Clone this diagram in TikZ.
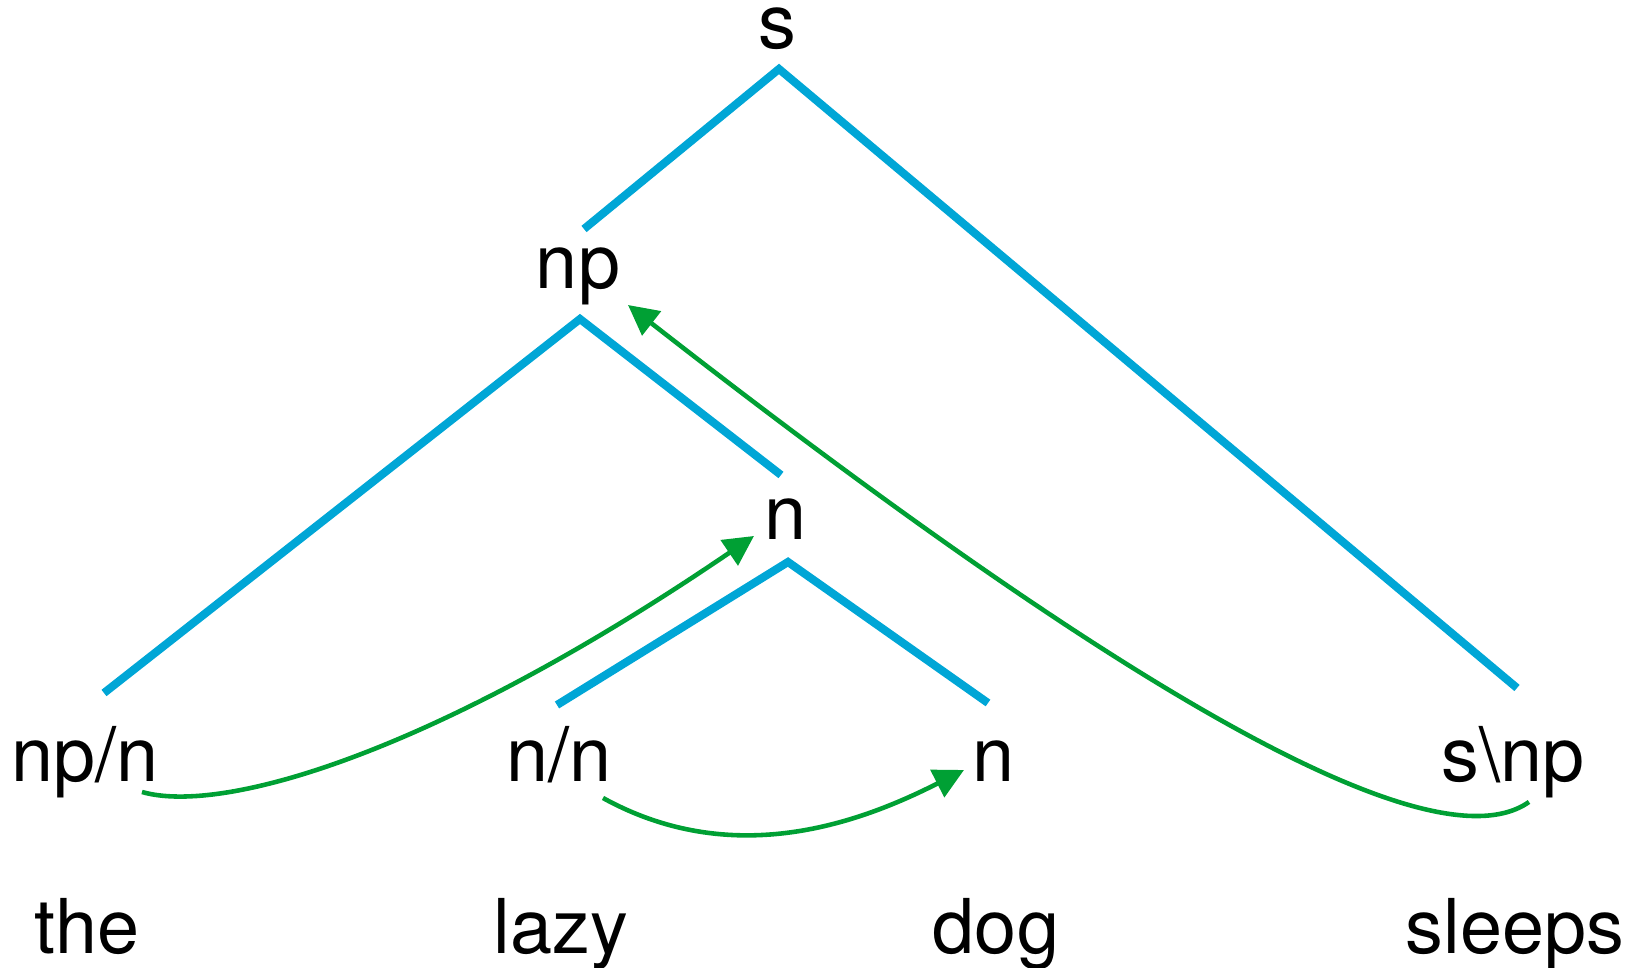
\documentclass[tikz,border=0pt]{standalone}
\usepackage{fontspec}
\setmainfont{TeX Gyre Heros}
\usepackage{xcolor}
\usepackage{tikz}
\usetikzlibrary{arrows.meta}

\definecolor{treeblue}{RGB}{0,166,214}
\definecolor{linkgreen}{RGB}{0,160,52}

\begin{document}
\begin{tikzpicture}[x=0.01cm, y=-0.01cm,
  every node/.style={font=\fontsize{21.5}{26}\selectfont, anchor=base, inner sep=0pt},
  tree/.style={treeblue, line width=2.3pt},
  link/.style={linkgreen, line width=1.3pt, -{Triangle[length=0.3cm,width=0.3cm]}}]
\useasboundingbox (0,0) rectangle (1635,968);
% categories
\node (s) at (777,49) {s};
\node (np) at (578,289) {np};
\node (n) at (786,540) {n};
\node (npn) at (85,782) {np/n};
\node (nn) at (559,782) {n/n};
\node (nr) at (994,782) {n};
\node (snp) at (1513,782) {s\textbackslash np};
% words
\node (the) at (87,954) {the};
\node (lazy) at (561,954) {lazy};
\node (dog) at (996,954) {dog};
\node (sleeps) at (1515,954) {sleeps};
% tree points
\coordinate (s-top) at (779,69);
\coordinate (np-up) at (584,229);
\coordinate (snp-up) at (1517,688);
\coordinate (np-top) at (580,319);
\coordinate (npn-up) at (104,693);
\coordinate (n-up) at (781,475);
\coordinate (n-top) at (788,562);
\coordinate (nn-up) at (557,705);
\coordinate (nr-up) at (988,703);
\draw[tree] (np-up) -- (s-top) -- (snp-up);
\draw[tree] (npn-up) -- (np-top) -- (n-up);
\draw[tree] (nn-up) -- (n-top) -- (nr-up);
% links
\coordinate (npn-out) at (142,792);
\coordinate (n-in) at (754,536);
\coordinate (nn-out) at (603,798);
\coordinate (nr-in) at (964,770);
\coordinate (snp-out) at (1529,802);
\coordinate (np-in) at (628,305);
\draw[link] (npn-out) .. controls (222,815) and (434,754) .. (n-in);
\draw[link] (nn-out) .. controls (730,868) and (854,826) .. (nr-in);
\draw[link] (snp-out) .. controls (1425,875) and (1078,656) .. (np-in);
\end{tikzpicture}
\end{document}
